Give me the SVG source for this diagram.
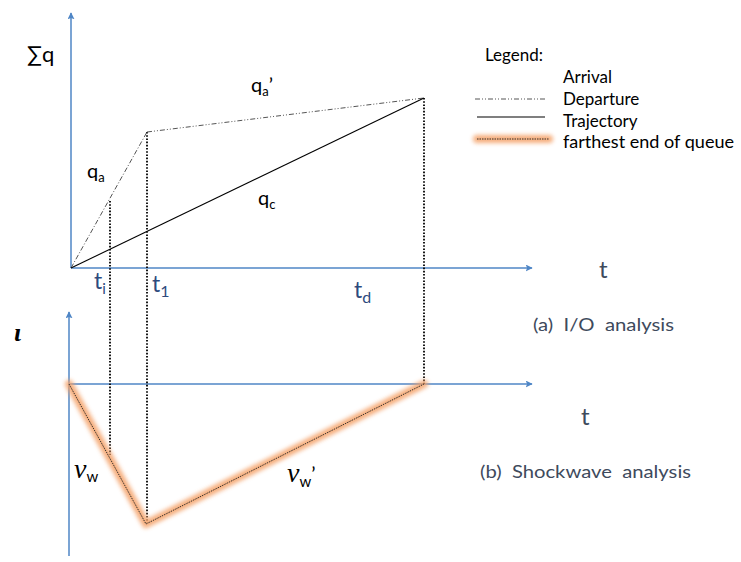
<svg xmlns="http://www.w3.org/2000/svg" width="741" height="562" viewBox="0 0 741 562">
<style>
.ax{stroke:#4F86C6;stroke-width:1.5;fill:none}
.dd{stroke:#555;stroke-width:1;fill:none;stroke-dasharray:5,2,1,2,1,2}
.da{stroke:#555;stroke-width:1;fill:none;stroke-dasharray:5,2,1,2}
.tr{stroke:#000;stroke-width:1.1;fill:none}
.vd{stroke:#000;stroke-width:1.8;fill:none;stroke-dasharray:1.6,1.6}
.glow{stroke:#F4A066;stroke-width:8;fill:none;stroke-linejoin:round;stroke-linecap:round;opacity:0.85}
.fd{stroke:#222;stroke-width:0.9;fill:none;stroke-dasharray:1.5,1}
.lab{font-family:Lato,"Liberation Sans",sans-serif;fill:#000}
.blu{font-family:Lato,"Liberation Sans",sans-serif;fill:#2E4A7D}
.gry{font-family:Lato,"Liberation Sans",sans-serif;fill:#3E4A5C}
.math{font-family:"Liberation Serif","DejaVu Serif",serif;font-style:italic;fill:#000}
.sub{font-family:Lato,"Liberation Sans",sans-serif;font-style:normal}
</style>
<defs>
<marker id="ar" viewBox="0 0 10 10" refX="9" refY="5" markerWidth="7" markerHeight="7" markerUnits="userSpaceOnUse" orient="auto">
<path d="M0,0 L10,5 L0,10 L2,5 z" fill="#4F86C6"/>
</marker>
<filter id="bl" filterUnits="userSpaceOnUse" x="0" y="0" width="741" height="562"><feGaussianBlur stdDeviation="2"/></filter>
</defs>

<g id="axes">
<line class="ax" x1="71" y1="268" x2="71" y2="13" marker-end="url(#ar)"/>
<line class="ax" x1="71" y1="268" x2="532" y2="268" marker-end="url(#ar)"/>
<line class="ax" x1="69" y1="556" x2="69" y2="312" marker-end="url(#ar)"/>
<line class="ax" x1="69" y1="384" x2="532" y2="384" marker-end="url(#ar)"/>
</g>

<g id="connectors">
<line class="vd" x1="110" y1="201" x2="110" y2="455"/>
<line class="vd" x1="147" y1="132" x2="147" y2="523"/>
<line class="vd" x1="424" y1="98" x2="424" y2="384"/>
<line class="da" x1="71" y1="268" x2="147" y2="132"/>
<line class="dd" x1="147" y1="132" x2="424" y2="98"/>
<line class="tr" x1="71" y1="268" x2="424" y2="98"/>
<polyline class="glow" filter="url(#bl)" points="69,384 146,524 424,384"/>
<polyline class="fd" points="69,384 146,524 424,384"/>
</g>

<g id="labels-top">
<text class="lab" x="27" y="62" font-size="22">∑q</text>
<text class="lab" x="87" y="178" font-size="20">q<tspan font-size="13" dy="4">a</tspan></text>
<text class="lab" x="251" y="92" font-size="20">q<tspan font-size="13" dy="4">a</tspan><tspan dy="-4">’</tspan></text>
<text class="lab" x="258" y="205" font-size="20">q<tspan font-size="13" dy="4">c</tspan></text>
<text class="blu" x="94" y="289" font-size="23">t<tspan font-size="15" dy="5">i</tspan></text>
<text class="blu" x="152" y="292" font-size="23">t<tspan font-size="16" dy="5">1</tspan></text>
<text class="blu" x="354" y="298" font-size="23">t<tspan font-size="16" dy="5">d</tspan></text>
<text class="gry" x="599" y="278" font-size="24">t</text>
<text class="gry" x="533" y="331" font-size="18" textLength="141" lengthAdjust="spacingAndGlyphs" xml:space="preserve">(a)  I/O  analysis</text>
</g>

<g id="labels-bottom">
<text class="math" x="14" y="341" font-size="26" font-weight="bold">ι</text>
<text class="gry" x="581" y="425" font-size="24">t</text>
<text class="gry" x="480" y="478" font-size="18" textLength="211" lengthAdjust="spacingAndGlyphs" xml:space="preserve">(b)  Shockwave  analysis</text>
<text class="math" x="74" y="478" font-size="28">ν<tspan class="sub" font-size="15" dy="4">w</tspan></text>
<text class="math" x="287" y="482" font-size="28">ν<tspan class="sub" font-size="15" dy="5">w</tspan><tspan class="sub" font-size="20" dy="-6">’</tspan></text>
</g>

<g id="legend">
<text class="lab" x="485" y="61" font-size="17">Legend:</text>
<text class="lab" x="563" y="83" font-size="17">Arrival</text>
<text class="lab" x="563" y="105" font-size="17">Departure</text>
<text class="lab" x="563" y="127" font-size="17">Trajectory</text>
<text class="lab" x="563" y="148" font-size="17" textLength="171" lengthAdjust="spacingAndGlyphs">farthest end of queue</text>
<line class="dd" x1="475" y1="99" x2="545" y2="99"/>
<line class="tr" x1="477" y1="117" x2="545" y2="117"/>
<line class="glow" filter="url(#bl)" x1="477" y1="139" x2="549" y2="139"/>
<line class="fd" x1="477" y1="139" x2="549" y2="139"/>
</g>
</svg>
